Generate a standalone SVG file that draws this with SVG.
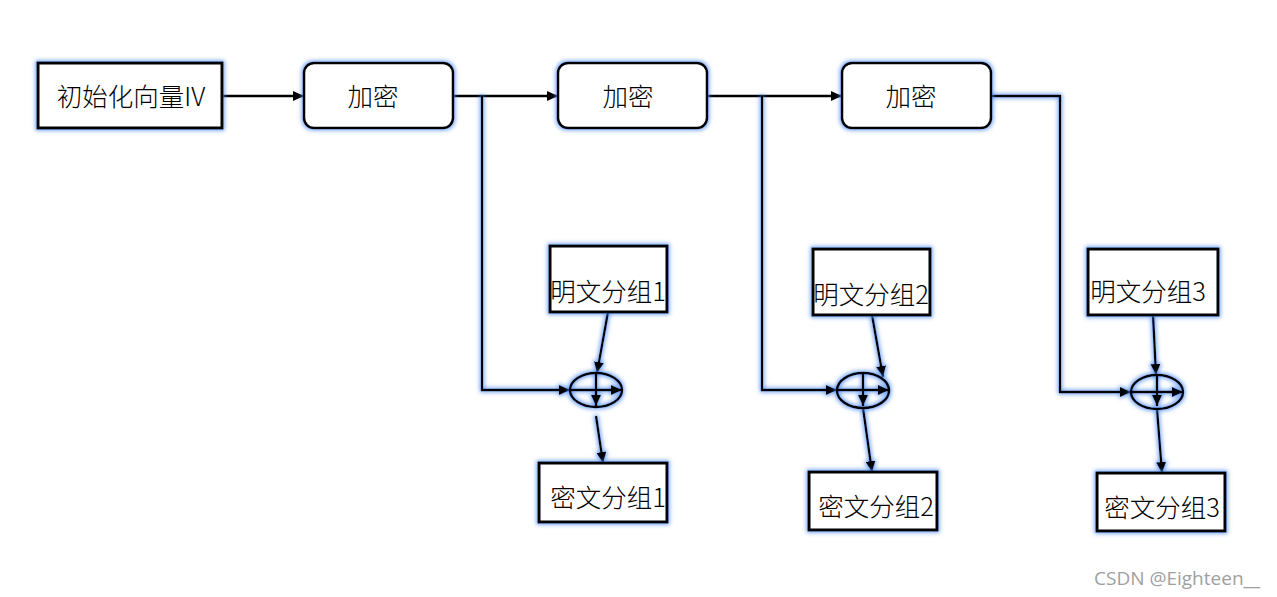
<svg xmlns="http://www.w3.org/2000/svg" width="1277" height="597" viewBox="0 0 1277 597">
<style>
.box{fill:#fff;stroke:#000;stroke-width:3}
.enc{fill:#fff;stroke:#000;stroke-width:2.5}
.xor{fill:none;stroke:#000;stroke-width:2.5}
.ln{fill:none;stroke:#000;stroke-width:2.3}
.t{font-family:"Noto Sans CJK SC","Noto Sans",sans-serif;font-size:25.5px;font-weight:300;fill:#000;text-anchor:middle}
.wm{font-family:"Open Sans",sans-serif;font-size:19px;fill:#a0a0a0}
</style>
<defs>
<filter id="glow" x="-20%" y="-20%" width="140%" height="140%">
<feMorphology in="SourceAlpha" operator="dilate" radius="1.2" result="d"/>
<feGaussianBlur in="d" stdDeviation="2.3" result="b"/>
<feFlood flood-color="#4a88f0" flood-opacity="0.8"/>
<feComposite in2="b" operator="in" result="g"/>
<feMerge><feMergeNode in="g"/><feMergeNode in="SourceGraphic"/></feMerge>
</filter>
<marker id="ah" markerUnits="userSpaceOnUse" markerWidth="12" markerHeight="10" refX="11" refY="5" orient="auto">
<path d="M0,0 L11,5 L0,10 Z" fill="#000"/>
</marker>
</defs>
<rect width="1277" height="597" fill="#fff"/>

<g id="connectors">
<line class="ln" x1="222" y1="96" x2="304" y2="96" marker-end="url(#ah)"/>
<line class="ln" x1="453" y1="96" x2="558" y2="96" marker-end="url(#ah)"/>
<line class="ln" x1="707" y1="96" x2="842" y2="96" marker-end="url(#ah)"/>
<g filter="url(#glow)">
<polyline class="ln" points="482,96 482,390 570,390" marker-end="url(#ah)"/>
<polyline class="ln" points="762,96 762,390 837,390" marker-end="url(#ah)"/>
<polyline class="ln" points="991,96 1060,96 1060,392 1131,392" marker-end="url(#ah)"/>
<line class="ln" x1="608" y1="312" x2="597" y2="373" marker-end="url(#ah)"/>
<line class="ln" x1="872" y1="315" x2="883" y2="377" marker-end="url(#ah)"/>
<line class="ln" x1="1153" y1="315" x2="1156" y2="375" marker-end="url(#ah)"/>
<line class="ln" x1="596" y1="416" x2="603" y2="463" marker-end="url(#ah)"/>
<line class="ln" x1="863" y1="408" x2="872" y2="472" marker-end="url(#ah)"/>
<line class="ln" x1="1157" y1="409" x2="1162" y2="473" marker-end="url(#ah)"/>
</g>
</g>

<g id="iv" filter="url(#glow)"><rect class="box" x="38" y="63" width="184" height="65"/></g>
<text class="t" x="131" y="106">初始化向量IV</text>

<g id="enc1" filter="url(#glow)"><rect class="enc" x="304" y="63" width="149" height="65" rx="10"/></g>
<text class="t" x="373" y="106">加密</text>
<g id="enc2" filter="url(#glow)"><rect class="enc" x="558" y="63" width="149" height="65" rx="10"/></g>
<text class="t" x="628" y="106">加密</text>
<g id="enc3" filter="url(#glow)"><rect class="enc" x="842" y="63" width="149" height="65" rx="10"/></g>
<text class="t" x="911" y="106">加密</text>

<g id="p1" filter="url(#glow)"><rect class="box" x="550" y="246" width="117" height="66"/></g>
<text class="t" x="608" y="301">明文分组1</text>
<g id="p2" filter="url(#glow)"><rect class="box" x="813" y="249" width="117" height="66"/></g>
<text class="t" x="871" y="304">明文分组2</text>
<g id="p3" filter="url(#glow)"><rect class="box" x="1088" y="249" width="130" height="66"/></g>
<text class="t" x="1148" y="301">明文分组3</text>

<g id="x1" filter="url(#glow)">
<ellipse class="xor" cx="596" cy="390" rx="26" ry="17"/>
<line class="ln" x1="570" y1="390" x2="622" y2="390" marker-end="url(#ah)"/>
<line class="ln" x1="596" y1="373" x2="596" y2="406" marker-end="url(#ah)"/>
</g>
<g id="x2" filter="url(#glow)">
<ellipse class="xor" cx="863" cy="390.5" rx="26" ry="17.5"/>
<line class="ln" x1="837" y1="390" x2="889" y2="390" marker-end="url(#ah)"/>
<line class="ln" x1="863" y1="373" x2="863" y2="406" marker-end="url(#ah)"/>
</g>
<g id="x3" filter="url(#glow)">
<ellipse class="xor" cx="1157" cy="392" rx="26" ry="17"/>
<line class="ln" x1="1131" y1="392" x2="1183" y2="392" marker-end="url(#ah)"/>
<line class="ln" x1="1157" y1="375" x2="1157" y2="406" marker-end="url(#ah)"/>
</g>

<g id="c1" filter="url(#glow)"><rect class="box" x="539" y="463" width="128" height="59"/></g>
<text class="t" x="608" y="507">密文分组1</text>
<g id="c2" filter="url(#glow)"><rect class="box" x="809" y="472" width="128" height="58"/></g>
<text class="t" x="876" y="516">密文分组2</text>
<g id="c3" filter="url(#glow)"><rect class="box" x="1097" y="473" width="128" height="58"/></g>
<text class="t" x="1162" y="517">密文分组3</text>

<text class="wm" x="1094" y="585">CSDN @Eighteen__</text>
</svg>
